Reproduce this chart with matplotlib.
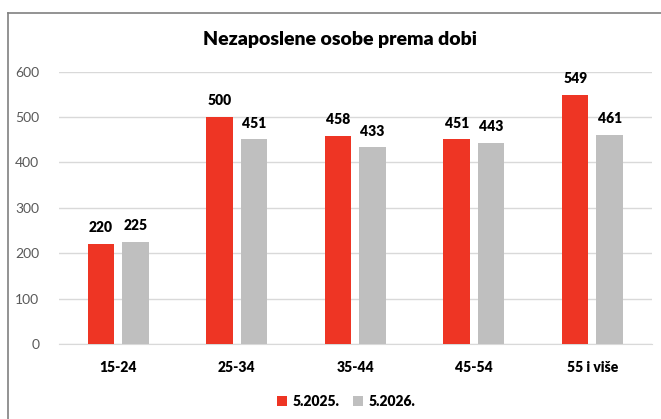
import numpy as np
import matplotlib.pyplot as plt
from matplotlib.lines import Line2D

# data
categories = ['15-24', '25-34', '35-44', '45-54', '55 i više']
vals_2025 = [220, 500, 458, 451, 549]
vals_2026 = [225, 451, 433, 443, 461]
series_names = ['5.2025.', '5.2026.']

red = '#EE3524'
grey = '#BFBFBF'

plt.rcParams['font.family'] = ['Lato', 'DejaVu Sans']

fig = plt.figure(figsize=(6.61, 4.19), dpi=100)
ax = fig.add_axes([0.089, 0.179, 0.897, 0.650])

x = np.arange(len(categories))
w = 0.223
off = 0.145
b1 = ax.bar(x - off, vals_2025, w, color=red, label=series_names[0], zorder=3)
b2 = ax.bar(x + off, vals_2026, w, color=grey, label=series_names[1], zorder=3)

# value labels above bars
for bars in (b1, b2):
    for rect in bars:
        h = rect.get_height()
        ax.annotate(f'{h:.0f}', (rect.get_x() + rect.get_width() / 2, h),
                    xytext=(0, 7), textcoords='offset points',
                    ha='center', va='bottom', fontsize=10, fontweight='heavy', color='black')

ax.set_xlim(-0.5, len(categories) - 0.5)
ax.set_ylim(0, 600)
ax.set_yticks(range(0, 601, 100))
ax.yaxis.grid(True, color='#D9D9D9', linewidth=1, zorder=0)
ax.set_axisbelow(True)
for s in ['top', 'right', 'left']:
    ax.spines[s].set_visible(False)
ax.spines['bottom'].set_color('#D9D9D9')
ax.tick_params(axis='y', length=0, labelcolor='#595959', labelsize=10, pad=14)
ax.tick_params(axis='x', length=0, labelsize=10, pad=12)
ax.set_xticks(x)
ax.set_xticklabels(categories, fontweight='heavy')

fig.text(0.515, 0.905, 'Nezaposlene osobe prema dobi', ha='center', va='center',
         fontsize=14, fontweight='heavy')

ax.legend(loc='center', bbox_to_anchor=(0.485, -0.21), ncol=2, frameon=False,
          handlelength=0.7, handleheight=0.7, handletextpad=0.4, columnspacing=1.0,
          prop={'weight': 'heavy', 'size': 10})

# chart frame (left and top edges visible in the crop)
fig.add_artist(Line2D([0.012, 0.012], [0, 0.969], color='#808080', linewidth=1.2))
fig.add_artist(Line2D([0.012, 1.0], [0.969, 0.969], color='#808080', linewidth=1.2))

plt.savefig('out.png', dpi=100)
